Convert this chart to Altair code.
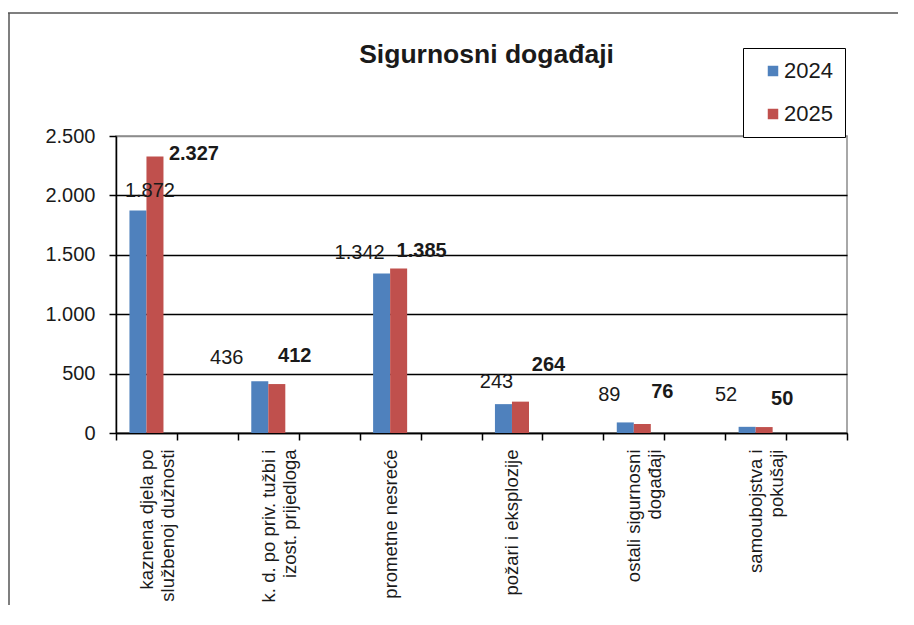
import altair as alt
import pandas as pd

# ---- data ----
categories = [
    "kaznena djela po\nslužbenoj dužnosti",
    "k. d. po priv. tužbi i\nizost. prijedloga",
    "prometne nesreće",
    "požari i eksplozije",
    "ostali sigurnosni\ndogađaji",
    "samoubojstva i\npokušaji",
]
years = ["2024", "2025"]
values_2024 = [1872, 436, 1342, 243, 89, 52]
values_2025 = [2327, 412, 1385, 264, 76, 50]
y_ticks = [0, 500, 1000, 1500, 2000, 2500]

# value-label placement offsets (pixels, relative to the top centre of each bar)
label_dx_2024 = [12, -33, -22, -7, -16, -21]
label_dy_2024 = [-20, -23, -21, -22, -27, -32]
label_dx_2025 = [39, 18, 23, 28, 20, 18]
label_dy_2025 = [-3, -28, -17, -37, -32, -28]

colors = ["#4F81BD", "#C0504D"]
FONT = "Liberation Sans"
TXT = "#1a1a1a"

rows = []
for c, a, b in zip(categories, values_2024, values_2025):
    rows.append({"cat": c, "year": "2024", "value": a})
    rows.append({"cat": c, "year": "2025", "value": b})
df = pd.DataFrame(rows)

# every category is followed by an empty slot, as in the reference
domain = []
for i, c in enumerate(categories):
    domain += [c, f"gap{i}"]

x_enc = alt.X(
    "cat:N",
    scale=alt.Scale(domain=domain, paddingInner=0, paddingOuter=0),
    axis=alt.Axis(
        title=None,
        labelAngle=-90,
        labelExpr="(isString(datum.value) && indexof(datum.value, 'gap') !== 0) ? split(datum.value, '\\n') : ''",
        tickBand="extent",
        tickSize=7,
        tickWidth=1.5,
        tickColor="black",
        domainColor="black",
        domainWidth=1.5,
        labelPadding=9,
        labelFontSize=18.5,
        labelLineHeight=21,
        labelLimit=300,
        labelOverlap=False,
        labelFont=FONT,
        labelColor=TXT,
        grid=False,
    ),
)
y_enc = alt.Y(
    "value:Q",
    scale=alt.Scale(domain=[0, 2500], nice=False),
    axis=alt.Axis(
        title=None,
        values=y_ticks,
        labelExpr="replace(format(datum.value, ','), ',', '.')",
        tickSize=7,
        tickWidth=1.5,
        tickColor="black",
        domainColor="black",
        domainWidth=1.5,
        labelPadding=14,
        labelFontSize=20,
        labelFont=FONT,
        labelColor=TXT,
        grid=True,
        gridColor={"condition": {"test": "datum.value >= 2500", "value": "#8c8c8c"}, "value": "black"},
        gridWidth=1.3,
    ),
)
xo_enc = alt.XOffset("year:N", scale=alt.Scale(domain=years, paddingInner=0, paddingOuter=0.79))

bars = alt.Chart(df).mark_bar().encode(
    x=x_enc,
    xOffset=xo_enc,
    y=y_enc,
    color=alt.Color(
        "year:N",
        scale=alt.Scale(domain=years, range=colors),
        legend=alt.Legend(
            title=None,
            orient="none",
            legendX=627,
            legendY=-88,
            strokeColor="black",
            fillColor="white",
            padding=12,
            symbolOffset=7,
            symbolType="square",
            symbolSize=110,
            symbolStrokeWidth=0,
            labelFontSize=22,
            labelFont=FONT,
            labelColor=TXT,
            labelOffset=0,
            rowPadding=21,
        ),
    ),
)

texts = []
for i, c in enumerate(categories):
    for yr, dxs, dys, weight in [
        ("2024", label_dx_2024, label_dy_2024, "normal"),
        ("2025", label_dx_2025, label_dy_2025, "bold"),
    ]:
        t = (
            alt.Chart(df)
            .transform_filter(alt.FieldEqualPredicate(field="cat", equal=c))
            .transform_filter(alt.FieldEqualPredicate(field="year", equal=yr))
            .transform_calculate(label="replace(format(datum.value, ','), ',', '.')")
            .mark_text(
                dx=dxs[i], dy=dys[i], fontSize=20, fontWeight=weight,
                font=FONT, color=TXT, align="center", baseline="middle",
            )
            .encode(x=x_enc, xOffset=xo_enc, y=y_enc, text="label:N")
        )
        texts.append(t)

one = alt.Data(values=[{"k": 0}])
frame_top = alt.Chart(one).mark_rule(color="#555555", strokeWidth=1.5).encode(
    x=alt.value(-108), x2=alt.value(800), y=alt.value(-123)
)
frame_left = alt.Chart(one).mark_rule(color="#555555", strokeWidth=1.5).encode(
    x=alt.value(-107), y=alt.value(-123), y2=alt.value(481)
)
title = alt.Chart(one).mark_text(
    text="Sigurnosni događaji", fontSize=26.5, fontWeight="bold", font=FONT,
    color=TXT, align="center", baseline="alphabetic",
).encode(x=alt.value(370.5), y=alt.value(-73))

chart = (
    alt.layer(frame_top, frame_left, bars, *texts, title)
    .properties(
        width=731,
        height=297,
        autosize=alt.AutoSizeParams(type="none"),
        padding={"left": 108, "top": 128, "right": 51, "bottom": 172},
        background="white",
    )
    .configure_view(stroke="#8c8c8c", strokeWidth=1.5)
)

chart.save("out.html", embed_options={"renderer": "svg", "actions": False})
